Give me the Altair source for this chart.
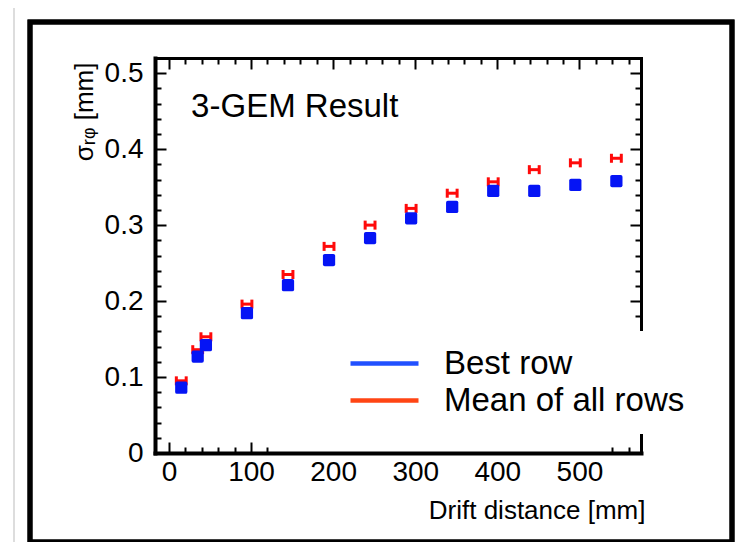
import altair as alt
import pandas as pd

# ---- data ----
drift_mm = [15, 35, 45, 95, 145, 195, 245, 295, 345, 395, 445, 495, 545]
best_row = [0.086, 0.127, 0.142, 0.184, 0.221, 0.254, 0.283, 0.309, 0.324, 0.345, 0.345, 0.353, 0.358]
mean_rows = [0.095, 0.136, 0.153, 0.196, 0.235, 0.272, 0.300, 0.322, 0.342, 0.357, 0.373, 0.382, 0.388]
mean_xerr = [6, 6, 6, 6, 6, 6, 6, 6, 6, 6, 6, 6, 6]

series_names = ["Best row", "Mean of all rows"]
legend_colors = ["#2150ff", "#ff4514"]

x_labels = [0, 100, 200, 300, 400, 500]
y_labels = [0, 0.1, 0.2, 0.3, 0.4, 0.5]
x_ticks_top = [0, 20, 40, 60, 80, 100, 120, 140, 160, 180, 200, 220, 240, 260, 280, 300,
               320, 340, 360, 380, 400, 420, 440, 460, 480, 500, 520, 540, 560]
x_ticks_bottom = [0, 20, 40, 60, 80, 100, 120, 540, 560]
y_ticks_left = [0, 0.02, 0.04, 0.06, 0.08, 0.1, 0.12, 0.14, 0.16, 0.18, 0.2, 0.22, 0.24, 0.26,
                0.28, 0.3, 0.32, 0.34, 0.36, 0.38, 0.4, 0.42, 0.44, 0.46, 0.48, 0.5, 0.52]
y_ticks_right = [0.18, 0.2, 0.22, 0.24, 0.26, 0.28, 0.3, 0.32, 0.34, 0.36, 0.38, 0.4,
                 0.42, 0.44, 0.46, 0.48, 0.5, 0.52]

note_text = ["3-GEM Result"]
note_x = [27]
note_y = [0.455]

W, H = 486, 395
FONT = "Liberation Sans"

df = pd.DataFrame({"x": drift_mm, "best": best_row, "mean": mean_rows, "err": mean_xerr})
df["lo"] = df["x"] - df["err"]
df["hi"] = df["x"] + df["err"]
caps = pd.DataFrame({"cx": list(df["lo"]) + list(df["hi"]), "cy": mean_rows + mean_rows})
legend_df = pd.DataFrame({"series": series_names, "lx": [0, 0], "ly": [0, 0]})
note_df = pd.DataFrame({"t": note_text, "x": note_x, "y": note_y})

xs = alt.Scale(domain=[-17, 575], nice=False, zero=False)
ys = alt.Scale(domain=[0, 0.52], nice=False, zero=False)

major_x = {"condition": {"test": "datum.value % 100 === 0", "value": 11}, "value": 6}
major_y = {"condition": {"test": "abs(datum.value*10 - round(datum.value*10)) < 0.000001", "value": 11}, "value": 6}

ax_x_labels = alt.Axis(orient="bottom", values=x_labels, ticks=False, tickSize=0, grid=False,
                       domain=True, domainWidth=4, domainColor="black", domainCap="square",
                       labelFont=FONT, labelFontSize=28, labelColor="black", labelPadding=5,
                       labelFlush=False, format="d",
                       title="Drift distance [mm]", titleFont=FONT, titleFontSize=26,
                       titleFontWeight="normal", titleColor="black", titleAlign="right",
                       titleAnchor="end", titleBaseline="middle", titleX=490, titleY=57)
ax_y_labels = alt.Axis(orient="left", values=y_labels, ticks=False, tickSize=0, grid=False,
                       domain=True, domainWidth=4, domainColor="black", domainCap="square",
                       labelFont=FONT, labelFontSize=28, labelColor="black", labelPadding=12,
                       labelFlush=False, format=".1~f",
                       title="σᵣᵩ [mm]", titleFont=FONT, titleFontSize=26,
                       titleFontWeight="normal", titleColor="black", titleAngle=270,
                       titleAlign="right", titleBaseline="middle", titleX=-71, titleY=4)
ax_x_ticks_bottom = alt.Axis(orient="top", offset=-H, values=x_ticks_bottom, labels=False,
                             domain=False, grid=False, tickColor="black", tickWidth=2,
                             tickSize=major_x, title=None)
ax_y_ticks_left = alt.Axis(orient="right", offset=-W, values=y_ticks_left, labels=False,
                           domain=False, grid=False, tickColor="black", tickWidth=2,
                           tickSize=major_y, title=None)
ax_x_top = alt.Axis(orient="bottom", offset=-H, values=x_ticks_top, labels=False,
                    domain=True, domainWidth=3, domainColor="black", domainCap="square",
                    grid=False, tickColor="black", tickWidth=2, tickSize=major_x, title=None)
ax_y_right = alt.Axis(orient="left", offset=-W, values=y_ticks_right, labels=False,
                      domain=True, domainWidth=3, domainColor="black", domainCap="square",
                      grid=False, tickColor="black", tickWidth=2, tickSize=major_y, title=None)

frame = alt.Chart(legend_df).mark_rect(fillOpacity=0, stroke="black", strokeWidth=5).encode(
    x=alt.value(-125), x2=alt.value(577), y=alt.value(-36), y2=alt.value(484))
shadow = alt.Chart(legend_df).mark_rect(fillOpacity=0, stroke="#dddddd", strokeWidth=2).encode(
    x=alt.value(-141), x2=alt.value(589), y=alt.value(-55), y2=alt.value(494))

line_sym = "M-3,0L3,0"
legend_layer = alt.Chart(legend_df).mark_line().encode(
    x=alt.X("lx:Q", scale=xs, axis=None),
    y=alt.Y("ly:Q", scale=ys, axis=None),
    color=alt.Color("series:N", scale=alt.Scale(domain=series_names, range=legend_colors),
                    legend=alt.Legend(orient="none", legendX=197, legendY=273, title=None,
                                      symbolType=line_sym, symbolSize=514, symbolStrokeWidth=4.5,
                                      symbolOpacity=1, labelFont=FONT, labelFontSize=33,
                                      labelColor="black", labelOffset=43, rowPadding=3,
                                      labelLimit=0, fillColor="white", padding=16, zindex=1)))

red_bar = alt.Chart(df).mark_rule(color="#ff0a0a", strokeWidth=3).encode(
    x=alt.X("lo:Q", scale=xs, axis=ax_x_labels),
    x2="hi:Q",
    y=alt.Y("mean:Q", scale=ys, axis=ax_y_labels))
red_caps = alt.Chart(caps).mark_tick(orient="vertical", size=9, thickness=3, color="#ff0a0a",
                                     opacity=1).encode(
    x=alt.X("cx:Q", scale=xs, axis=None),
    y=alt.Y("cy:Q", scale=ys, axis=None))

rounded_sq = ("M-0.7,-1 L0.7,-1 Q1,-1 1,-0.7 L1,0.7 Q1,1 0.7,1 L-0.7,1 "
              "Q-1,1 -1,0.7 L-1,-0.7 Q-1,-1 -0.7,-1 Z")
blue = alt.Chart(df).mark_point(shape=rounded_sq, filled=True, size=150, color="#0514f5",
                                opacity=1).encode(
    x=alt.X("x:Q", scale=xs, axis=ax_x_ticks_bottom),
    y=alt.Y("best:Q", scale=ys, axis=ax_y_ticks_left))

note = alt.Chart(note_df).mark_text(align="left", baseline="middle", font=FONT, fontSize=33,
                                    color="black").encode(
    x=alt.X("x:Q", scale=xs, axis=ax_x_top),
    y=alt.Y("y:Q", scale=ys, axis=ax_y_right),
    text="t:N")

chart = alt.layer(shadow, frame, legend_layer, red_bar, red_caps, blue, note).resolve_axis(
    x="independent", y="independent"
).properties(
    width=W, height=H,
    autosize=alt.AutoSizeParams(type="none"),
    padding={"left": 147, "top": 50, "right": 98, "bottom": 89},
    background="white",
).configure_view(stroke=None)

chart.save("out.html", embed_options={"renderer": "svg", "actions": False})
